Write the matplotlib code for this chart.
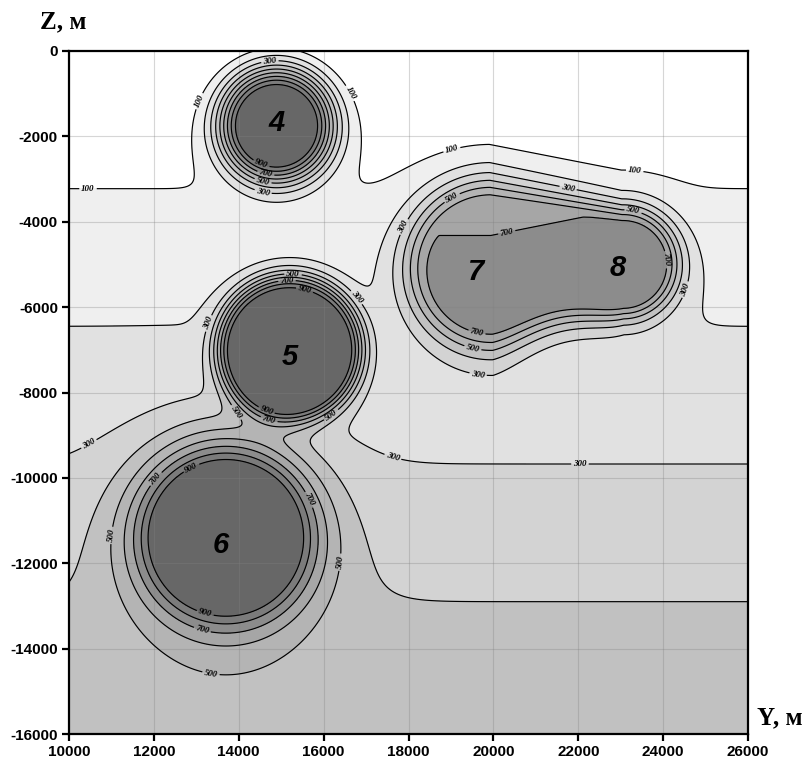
import matplotlib
matplotlib.use("Agg")
import matplotlib.pyplot as plt
import numpy as np

# background: depth (m) per 100 degrees of temperature rise
BG_STEP = 3225.0

# intrusive bodies: centre, plateau radius, excess temperature, decay length, profile power
BODY_ID = ["4", "5", "6", "7", "8"]
BODY_Y = [14890, 15200, 13696, 19950, 23050]
BODY_Z = [-1720, -6960, -11315, -5000, -4950]
BODY_R = [661, 1255, 1558, 1400, 950]
BODY_DT = [1000, 800, 700, 566, 585]
BODY_L = [750, 520, 810, 760, 500]
BODY_P = [2.0, 2.0, 1.3, 1.7, 1.5]
PAIR = ("7", "8")  # 7 and 8 form one joined hot zone
NECK = 220.0       # the underside of the 7-8 zone rises this much between them

LEVELS = [100, 200, 300, 400, 500, 600, 700, 800, 900]
LABELED = [100, 300, 500, 700, 900]
FILLS = ["#ffffff", "#efefef", "#e1e1e1", "#d3d3d3", "#c1c1c1",
         "#b4b4b4", "#a6a6a6", "#8c8c8c", "#7b7b7b", "#676767"]

# where the contour values are written
LABEL_POS = [
    (10448, -3206), (13016, -1154), (16668, -967), (19025, -2325), (23337, -2734),
    (14736, -265), (14547, -2600), (14642, -2850), (14571, -3050), (14571, -3310),
    (21735, -3337), (19048, -3478), (17964, -4157), (20320, -4274), (23290, -3760),
    (23926, -4906), (24562, -5604), (19614, -6580), (19520, -6940), (19637, -7595),
    (15278, -5253), (15137, -5394), (15561, -5557), (16786, -5768), (13275, -6377),
    (14689, -8330), (14736, -8560), (13841, -8532), (16150, -8485),
    (12851, -9703), (12026, -10007), (15632, -10522), (10966, -11344), (16386, -11976),
    (13228, -13101), (13157, -13499), (13346, -14577),
    (10448, -9166), (17634, -9501), (22040, -9688),
]
NUM_POS = {"4": (14900, -1680), "5": (15200, -7170), "6": (13580, -11580),
           "7": (19590, -5180), "8": (22930, -5090)}


def shape(d, length, power):
    return np.exp(-(np.maximum(d, 0.0) / length) ** power)


def round_body(i, yy, zz):
    d = np.hypot(yy - BODY_Y[i], zz - BODY_Z[i]) - BODY_R[i]
    return BODY_DT[i] * shape(d, BODY_L[i], BODY_P[i])


def joined_body(i, j, yy, zz):
    # tapered capsule between the two centres, properties blend along it
    vy, vz = BODY_Y[j] - BODY_Y[i], BODY_Z[j] - BODY_Z[i]
    t = ((yy - BODY_Y[i]) * vy + (zz - BODY_Z[i]) * vz) / (vy * vy + vz * vz)
    t = np.clip(t, 0.0, 1.0)
    mix = lambda a: a[i] + t * (a[j] - a[i])
    lift = 0.5 * NECK * (4.0 * t * (1.0 - t)) ** 2
    qy = BODY_Y[i] + t * vy
    qz = BODY_Z[i] + t * vz + lift
    d = np.hypot(yy - qy, zz - qz) - (mix(BODY_R) - lift)
    return mix(BODY_DT) * shape(d, mix(BODY_L), mix(BODY_P))


def field(yy, zz):
    t = -zz / BG_STEP * 100.0
    for i, name in enumerate(BODY_ID):
        if name not in PAIR:
            t += round_body(i, yy, zz)
    t += joined_body(BODY_ID.index(PAIR[0]), BODY_ID.index(PAIR[1]), yy, zz)
    return t


plt.rcParams["axes.unicode_minus"] = False
fig = plt.figure(figsize=(8.06, 7.65), dpi=100)
ax = fig.add_axes([69 / 806, 1 - 734 / 765, 679 / 806, 683 / 765])

yv = np.linspace(10000, 26000, 801)
zv = np.linspace(-16000, 0, 801)
YY, ZZ = np.meshgrid(yv, zv)
T = field(YY, ZZ)

ax.contourf(YY, ZZ, T, levels=[-1e4] + LEVELS + [1e5], colors=FILLS, zorder=1)
ax.grid(True, color="#808080", alpha=0.32, linewidth=0.8, zorder=2)
ax.set_axisbelow(False)
plain = [lv for lv in LEVELS if lv not in LABELED]
ax.contour(YY, ZZ, T, levels=plain, colors="black", linewidths=0.85, zorder=3)
cs = ax.contour(YY, ZZ, T, levels=LABELED, colors="black", linewidths=0.85, zorder=3)
with plt.rc_context({"font.family": "Liberation Serif", "font.weight": "bold",
                     "font.style": "italic"}):
    ax.clabel(cs, manual=LABEL_POS, fmt="%d", fontsize=6.5,
              inline=True, inline_spacing=2, colors="black")

for name, (x, z) in NUM_POS.items():
    ax.text(x, z, name, fontsize=21, fontweight="bold", fontstyle="italic",
            family="Liberation Sans", ha="center", va="center", zorder=5)

ax.set_xlim(10000, 26000)
ax.set_ylim(-16000, 0)
ax.set_xticks(np.arange(10000, 26001, 2000))
ax.set_yticks(np.arange(-16000, 1, 2000))
for s in ax.spines.values():
    s.set_linewidth(1.6)
    s.set_zorder(6)
ax.tick_params(direction="out", length=5, width=1.6, labelsize=11, pad=3)
for lab in ax.get_xticklabels() + ax.get_yticklabels():
    lab.set_fontweight("bold")
    lab.set_family("Liberation Sans")

fig.text(40 / 806, 1 - 22 / 765, "Z, м", fontsize=18, fontweight="bold",
         family="Liberation Serif", ha="left", va="center")
fig.text(757 / 806, 1 - 718 / 765, "Y, м", fontsize=18, fontweight="bold",
         family="Liberation Serif", ha="left", va="center")

fig.savefig("out.png", dpi=100)
